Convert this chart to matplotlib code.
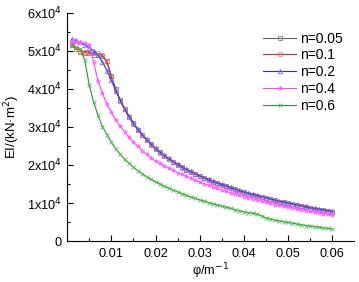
import numpy as np
import matplotlib.pyplot as plt
from matplotlib.ticker import FixedLocator

plt.rcParams['font.family'] = ['Liberation Sans', 'DejaVu Sans']

# curvature grid, 0.001 ... 0.060
phi = np.arange(1, 61) / 1000.0

ei_005 = [51500, 50500, 49800, 49500, 49300, 49000, 48800, 48500, 47200, 43500,
          40000, 37000, 34700, 32700, 30900, 29300, 27900, 26600, 25400, 24300,
          23300, 22400, 21600, 20800, 20100, 19400, 18800, 18200, 17600, 17100,
          16600, 16100, 15600, 15200, 14800, 14400, 14000, 13600, 13200, 12800,
          12500, 12200, 11900, 11600, 11300, 11000, 10700, 10400, 10200, 9900,
          9700, 9400, 9200, 9000, 8700, 8500, 8300, 8100, 7900, 7700]
ei_01 = [52000, 50500, 50000, 49800, 49600, 49500, 49300, 48800, 47000, 43000,
         39800, 36900, 34600, 32600, 30800, 29200, 27800, 26500, 25300, 24200,
         23200, 22300, 21500, 20700, 20000, 19300, 18700, 18100, 17500, 17000,
         16500, 16000, 15500, 15100, 14700, 14300, 13900, 13500, 13100, 12700,
         12400, 12100, 11800, 11500, 11200, 10900, 10600, 10300, 10100, 9800,
         9600, 9300, 9100, 8900, 8600, 8400, 8200, 8000, 7800, 7600]
ei_02 = [53000, 52700, 52200, 51500, 50800, 50000, 48800, 47000, 44800, 42300,
         39500, 37000, 34800, 32800, 31000, 29400, 28000, 26700, 25500, 24400,
         23400, 22500, 21700, 20900, 20200, 19500, 18900, 18300, 17700, 17200,
         16700, 16200, 15700, 15300, 14900, 14500, 14100, 13700, 13300, 12900,
         12600, 12300, 12000, 11700, 11400, 11100, 10800, 10500, 10300, 10000,
         9800, 9500, 9300, 9100, 8800, 8600, 8400, 8200, 8000, 7800]
ei_04 = [52500, 52300, 52200, 52000, 51500, 47000, 42000, 38800, 36000, 33800,
         31900, 30200, 28700, 27300, 26000, 24900, 23800, 22800, 21900, 21000,
         20400, 19800, 19200, 18600, 18000, 17500, 17000, 16500, 16000, 15500,
         15100, 14700, 14300, 13900, 13500, 13100, 12700, 12400, 12000, 11700,
         11400, 11100, 10800, 10500, 10200, 9900, 9600, 9400, 9100, 8900,
         8700, 8400, 8200, 8000, 7800, 7600, 7400, 7200, 7000, 6800]
ei_06 = [51200, 51000, 50500, 47500, 41000, 36500, 33000, 30000, 28000, 26000,
         24300, 22800, 21500, 20400, 19400, 18500, 17700, 16900, 16200, 15600,
         15000, 14400, 13900, 13400, 12900, 12500, 12000, 11600, 11200, 10800,
         10500, 10100, 9800, 9500, 9200, 8900, 8600, 8300, 8000, 7700,
         7500, 7300, 7100, 6600, 6100, 5800, 5500, 5300, 5100, 4900,
         4700, 4500, 4300, 4100, 3950, 3800, 3650, 3500, 3350, 3200]

# label, values, line colour, marker colour, marker
series = [
    ('n=0.05', ei_005, '#606060', '#808080', 's'),
    ('n=0.1', ei_01, '#c03030', '#ff7070', 'o'),
    ('n=0.2', ei_02, '#3030c0', '#7070ff', '^'),
    ('n=0.4', ei_04, '#ff44ff', '#ff66ff', '*'),
    ('n=0.6', ei_06, '#2e8f2e', '#55bb55', 'x'),
]

x_ticks = [0.01, 0.02, 0.03, 0.04, 0.05, 0.06]
x_labels = ['0.01', '0.02', '0.03', '0.04', '0.05', '0.06']
y_ticks = [0, 10000, 20000, 30000, 40000, 50000, 60000]
y_labels = ['0'] + [f'{k}x10$^4$' for k in range(1, 7)]

fig = plt.figure(figsize=(3.59, 2.82), dpi=100)
ax = fig.add_axes([0.187, 0.145, 0.80, 0.81])

for label, ei, lc, mc, mk in series:
    ax.plot(phi, ei, color=lc, lw=0.8, marker=mk, ms=3.2,
            mfc='none', mec=mc, mew=0.6, label=label)

ax.set_xlim(0, 0.065)
ax.set_ylim(0, 60000)
ax.xaxis.set_major_locator(FixedLocator(x_ticks))
ax.xaxis.set_minor_locator(FixedLocator([0.005, 0.015, 0.025, 0.035, 0.045, 0.055]))
ax.set_xticklabels(x_labels)
ax.yaxis.set_major_locator(FixedLocator(y_ticks))
ax.yaxis.set_minor_locator(FixedLocator([5000, 15000, 25000, 35000, 45000, 55000]))
ax.set_yticklabels(y_labels)

ax.tick_params(which='major', direction='in', length=4, width=0.8,
               labelsize=9.2, pad=4)
ax.tick_params(axis='x', which='major', pad=5)
ax.tick_params(which='minor', direction='in', length=2, width=0.8)
ax.spines['top'].set_visible(False)
ax.spines['right'].set_visible(False)

ax.set_xlabel('φ/m$^{-1}$', fontsize=9.2, labelpad=1)
ax.set_ylabel('EI/(kN·m$^2$)', fontsize=9.5, labelpad=3)

ax.legend(loc='upper right', bbox_to_anchor=(0.995, 0.96), frameon=False,
          fontsize=10, handlelength=2.4, labelspacing=0.2, borderpad=0.2,
          handletextpad=0.3)

fig.savefig('out.png', dpi=100)
